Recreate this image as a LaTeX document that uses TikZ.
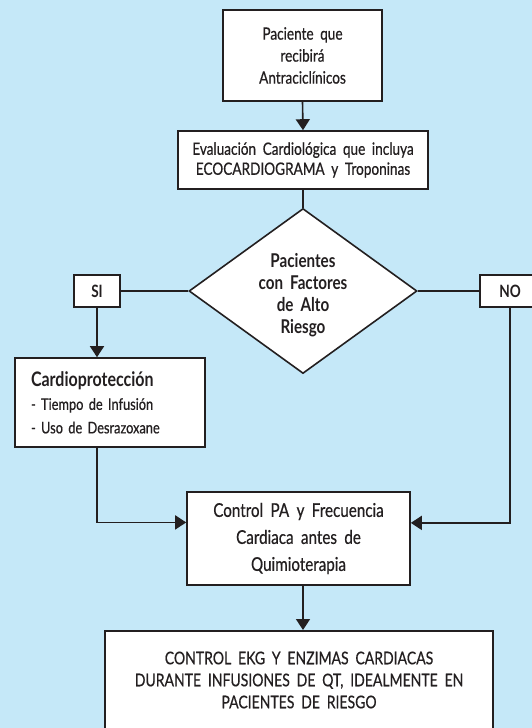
\documentclass[tikz,border=0pt]{standalone}
\usepackage{fontspec}
\setmainfont{Lato}[FakeStretch=0.8, WordSpace=1.9, FakeBold=0.5]
\newfontfamily\bfx{Lato}[FakeStretch=0.8, WordSpace=1.9]
\usetikzlibrary{shapes.geometric,arrows.meta,calc}
\definecolor{bgblue}{RGB}{197,232,248}
\definecolor{ink}{RGB}{35,31,32}
\begin{document}
\begin{tikzpicture}[x=1pt,y=-1pt,
  box/.style={draw=ink, fill=white, line width=1.6pt, inner sep=0pt, align=center, text=ink, font=\fontsize{17}{22}\selectfont},
  lbl/.style={align=center, text=ink, inner sep=0pt, font=\fontsize{17}{22}\selectfont},
  flow/.style={draw=ink, line width=1.6pt},
  arr/.style={flow, -{Triangle[length=11pt,width=14pt]}}]
\fill[bgblue] (0,0) rectangle (532,728);
\useasboundingbox (0,0) rectangle (532,728);
\clip (0,0) rectangle (532,728);

\node[box, minimum width=159pt, minimum height=91pt] (b1) at (302.5,55.5)
  {Paciente que\\recibirá\\Antraciclínicos};
\node[box, minimum width=250pt, minimum height=58pt, font=\fontsize{17}{20}\selectfont] (b2) at (303,160)
  {Evaluación Cardiológica que incluya\\ECOCARDIOGRAMA y Troponinas};
\node[diamond, draw=ink, fill=white, line width=1.6pt, inner sep=0pt, minimum width=228pt, minimum height=165pt] (d) at (303,291) {};
\node[lbl, font=\bfx\fontsize{19}{22}\selectfont\bfseries] (dt) at (303,295) {Pacientes\\con Factores\\de Alto\\Riesgo};
\node[box, minimum width=46pt, minimum height=32pt, font=\bfx\fontsize{17}{18}\selectfont\bfseries] (si) at (97,291) {SI};
\node[box, minimum width=60pt, minimum height=32pt, font=\bfx\fontsize{17}{18}\selectfont\bfseries] (no) at (510,291) {NO};
\node[box, minimum width=190pt, minimum height=89pt, text width=158pt, align=left, font=\fontsize{16}{23.5}\selectfont] (card) at (110,402.5)
  {{\bfx\fontsize{20}{23.5}\selectfont\bfseries Cardioprotección}\\- Tiempo de Infusión\\- Uso de Desrazoxane};
\node[box, minimum width=223pt, minimum height=93pt, font=\fontsize{19}{27}\selectfont] (ctrl) at (298.5,538.5)
  {Control PA y Frecuencia\\Cardiaca antes de\\Quimioterapia};
\node[box, minimum width=388pt, minimum height=130pt, anchor=north] (fin) at (299,630) {};
\node[lbl, font=\fontsize{17.5}{22}\selectfont] (fint) at (299,680)
  {CONTROL EKG Y ENZIMAS CARDIACAS\\DURANTE INFUSIONES DE QT, IDEALMENTE EN\\PACIENTES DE RIESGO};

\coordinate (cin) at ($(ctrl.north west)!0.33!(ctrl.south west)$);
\coordinate (cin2) at ($(ctrl.north east)!0.335!(ctrl.south east)$);
\coordinate (cout) at (ctrl.south -| b2.south);
\coordinate (fin in) at (fin.north -| b2.south);

\draw[arr] (b1.south) -- (b2.north);
\draw[flow] (b2.south) -- (d.north);
\draw[flow] (d.west) -- (si.east);
\draw[flow] (d.east) -- (no.west);
\draw[arr] (si.south) -- (si.south |- card.north);
\draw[arr] (si.south |- card.south) |- (cin);
\draw[arr] (no.south) |- (cin2);
\draw[arr] (cout) -- (fin in);
\end{tikzpicture}
\end{document}
